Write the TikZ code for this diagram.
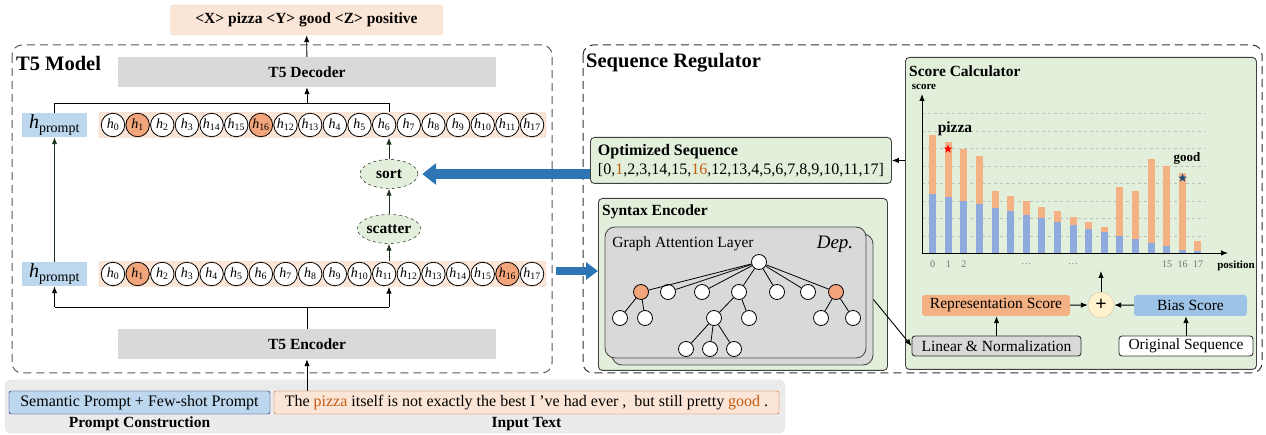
\documentclass[tikz,border=0pt]{standalone}
\usepackage{fontspec}
\setmainfont{Liberation Serif}
\usetikzlibrary{positioning,arrows.meta,shapes.geometric,calc}

\definecolor{peach}{HTML}{FBE5D6}
\definecolor{peachline}{HTML}{EBCDB8}
\definecolor{hot}{HTML}{F2A47A}
\definecolor{boxgray}{HTML}{D9D9D9}
\definecolor{promptblue}{HTML}{BDD7EE}
\definecolor{softgreen}{HTML}{E2EFDA}
\definecolor{arrowblue}{HTML}{2E75B6}
\definecolor{bandgray}{HTML}{EBEBEB}
\definecolor{tok}{HTML}{C55A11}
\definecolor{barorange}{HTML}{F4B183}
\definecolor{barblue}{HTML}{8FAADC}
\definecolor{biasblue}{HTML}{9DC3E6}
\definecolor{plusyellow}{HTML}{FFF2CC}
\definecolor{darkgreen}{HTML}{1E321E}

\begin{document}
\begin{tikzpicture}[x=1pt,y=-1pt,
    every node/.style={font=\fontsize{15.5}{18}\selectfont, inner sep=0pt},
    boldtext/.style={font=\fontsize{15.5}{18}\selectfont\bfseries},
    titletext/.style={font=\fontsize{20.5}{24}\selectfont\bfseries},
    dashframe/.style={draw=black!80, line width=1pt, dash pattern=on 8pt off 5pt, rounded corners=10pt},
    t5box/.style={boldtext, fill=boxgray, minimum width=378, minimum height=30},
    rowbox/.style={fill=peach, draw=peachline, rounded corners=2pt, minimum width=447, minimum height=25},
    promptbox/.style={fill=promptblue, minimum width=65, minimum height=24, font=\fontsize{20}{20}\selectfont},
    hnode/.style={circle, draw=black, line width=0.8pt, minimum size=23.5, font=\fontsize{14}{14}\selectfont},
    opnode/.style={ellipse, draw=black, dashed, fill=softgreen, minimum width=58, minimum height=29, boldtext},
    arr/.style={-{Latex[length=7pt,width=5.5pt]}, line width=0.9pt},
    greenarr/.style={arr, draw=darkgreen},
    bluearr/.style={-{Triangle[length=14pt,width=21pt]}, line width=10pt, draw=arrowblue},
    greenbox/.style={fill=softgreen, draw=black!75, line width=0.9pt, rounded corners=4pt},
    gatlayer/.style={fill=boxgray, draw=black!70, line width=0.9pt, rounded corners=10pt, minimum width=261, minimum height=131},
    tnode/.style={circle, draw=black, fill=white, line width=0.8pt, minimum size=15},
    gridline/.style={draw=black!25, dashed, line width=0.6pt},
    ticklab/.style={font=\fontsize{10}{10}\selectfont, text=black!55},
    smallbox/.style={minimum height=21, rounded corners=3pt}
]
\useasboundingbox (0,0) rectangle (1266,435);

% input band
\node[fill=bandgray, draw=black!12, rounded corners=6pt, minimum width=780, minimum height=53] (band) at (395,406.5) {};
\node[fill=promptblue, draw=black!60!blue, rounded corners=2pt, minimum width=261, minimum height=23, font=\fontsize{16}{18}\selectfont] (sema) at (139.5,402.5) {Semantic Prompt + Few-shot Prompt};
\node[fill=peach, draw=tok, rounded corners=2pt, minimum width=505, minimum height=23, font=\fontsize{16}{18}\selectfont] (input) at (526.5,402.5)
  {The \textcolor{tok}{pizza} itself is not exactly the best I 've had ever ,\ \ but still pretty \textcolor{tok}{good} .};
\node[boldtext] (pclab) at (139.5,424) {Prompt Construction};
\node[boldtext] (itlab) at (526.5,424) {Input Text};

% T5 model
\draw[dashframe, draw=black!65] (12,45) rectangle (552,373);
\node[titletext, anchor=west] (t5title) at (16,63) {T5 Model};
\node[fill=peach, draw=peachline, rounded corners=3pt, minimum width=272, minimum height=30, font=\fontsize{15.5}{18}\selectfont\bfseries] (out) at (306.5,20) {<X> pizza <Y> good <Z> positive};
\node[t5box] (dec) at (307,72) {T5 Decoder};
\node[t5box] (enc) at (307,344) {T5 Encoder};

\node[rowbox] (rowt) at (322.5,125) {};
\node[rowbox] (rowb) at (322.5,274) {};
\node[promptbox] (hpt) at (54.5,125) {\textit{h}\textsubscript{prompt}};
\node[promptbox] (hpb) at (54.5,274) {\textit{h}\textsubscript{prompt}};

\foreach \t/\c [count=\i from 0] in {0/white,1/hot,2/white,3/white,14/white,15/white,16/hot,12/white,13/white,4/white,5/white,6/white,7/white,8/white,9/white,10/white,11/white,17/white}
  \node[hnode, fill=\c] (ht\i) at ({113+24.65*\i},125) {\textit{h}\textsubscript{\t}};
\foreach \t/\c [count=\i from 0] in {0/white,1/hot,2/white,3/white,4/white,5/white,6/white,7/white,8/white,9/white,10/white,11/white,12/white,13/white,14/white,15/white,16/hot,17/white}
  \node[hnode, fill=\c] (hb\i) at ({113+24.65*\i},274) {\textit{h}\textsubscript{\t}};

\node[opnode] (scatter) at (389,229) {scatter};
\node[opnode] (sort) at (389,174) {sort};

\draw[greenarr] (sort |- rowb.north) -- (scatter);
\draw[greenarr] (scatter) -- (sort);
\draw[greenarr] (sort) -- (sort |- rowt.south);
\draw[greenarr] (hpb) -- (hpt);

\coordinate (bust) at (307,103);
\coordinate (busb) at (307,307);
\draw[line width=0.9pt] (hpt.north) |- (sort |- bust) -- (sort |- rowt.north);
\draw[arr] (bust) -- (dec);
\draw[arr] (dec) -- (out);
\draw[line width=0.9pt] (enc) -- (busb);
\draw[line width=0.9pt] (hpb |- busb) -- (sort |- busb);
\draw[arr] (hpb |- busb) -- (hpb);
\draw[arr] (sort |- busb) -- (sort |- rowb.south);
\draw[arr] (enc |- input.north) -- (enc);

% sequence regulator
\draw[dashframe] (583,45) rectangle (1262,373);
\node[titletext, anchor=west] (srtitle) at (586,63) {Sequence Regulator};

\node[greenbox, anchor=north west, minimum width=301, minimum height=46, align=left, font=\fontsize{16}{19}\selectfont] (optseq) at (590,137)
  {\textbf{Optimized Sequence}\\{[}0,\textcolor{tok}{1},2,3,14,15,\textcolor{tok}{16},12,13,4,5,6,7,8,9,10,11,17{]}};
\draw[bluearr, shorten >=4pt] (optseq.west |- sort) -- (sort.east);

% syntax encoder
\node[greenbox, anchor=north west, minimum width=289, minimum height=172] (synenc) at (598,198) {};
\node[boldtext, anchor=west] (synlab) at (602,212) {Syntax Encoder};
\node[gatlayer] (gat2) at (742.5,299.5) {};
\node[gatlayer] (gat1) at (735.5,292.5) {};
\node (gallab) at (683,244) {Graph Attention Layer};
\node[font=\fontsize{19}{19}\selectfont\itshape] (deplab) at (835,244) {Dep.};

\coordinate (bstart) at (556,271);
\draw[bluearr, line width=8pt, -{Triangle[length=12pt,width=17pt]}] (bstart) -- (bstart -| synenc.west);

\node[tnode] (r) at (759,262) {};
\node[tnode, fill=hot] (a1) at (641,292) {};
\node[tnode] (a2) at (668,292) {};
\node[tnode] (a3) at (702,292) {};
\node[tnode] (a4) at (739,292) {};
\node[tnode] (a5) at (777,292) {};
\node[tnode] (a6) at (808,292) {};
\node[tnode, fill=hot] (a7) at (836,292) {};
\node[tnode] (b1) at (620,318) {};
\node[tnode] (b2) at (645,318) {};
\node[tnode] (b3) at (714,318) {};
\node[tnode] (b4) at (749,318) {};
\node[tnode] (b5) at (821,318) {};
\node[tnode] (b6) at (853,318) {};
\node[tnode] (c1) at (686,349) {};
\node[tnode] (c2) at (710,349) {};
\node[tnode] (c3) at (734,349) {};
\foreach \a in {a1,a2,a3,a4,a5,a6,a7}
  \draw[line width=0.8pt] (r) -- (\a);
\foreach \p/\q in {a1/b1,a1/b2,a4/b3,a4/b4,a7/b5,a7/b6,b3/c1,b3/c2,b3/c3}
  \draw[line width=0.8pt] (\p) -- (\q);

% score calculator
\node[greenbox, anchor=north west, minimum width=351, minimum height=312] (score) at (905,57) {};
\node[boldtext, anchor=west] (sclab) at (909,71) {Score Calculator};
\node[font=\fontsize{11}{11}\selectfont\bfseries] (scorelab) at (924,87) {score};
\node[font=\fontsize{11}{11}\selectfont\bfseries] (poslab) at (1236,266) {position};

\foreach \k in {0,...,7}
  \draw[gridline] (922,{236-17.5*\k}) -- (1205,{236-17.5*\k});
\foreach \tot/\blu [count=\i from 0] in {118/59,111/56,104/52,97/49,62/45,57/42,52/38,46/35,42/31,36/28,31/24,26/21,66/17,62/14,94/10,87/7,80/3,12/2}
{
  \fill[barorange] ({929.2+15.6*\i},253) rectangle ++(7,-\tot);
  \fill[barblue] ({929.2+15.6*\i},253) rectangle ++(7,-\blu);
}
\coordinate (org) at (922,253);
\draw[arr] (org) -- (922,94);
\draw[arr] (org) -- (1228,253);

\node[boldtext] (pizzalab) at (955,129) {pizza};
\node[font=\fontsize{13}{13}\selectfont\bfseries] (goodlab) at (1187,158) {good};
\node[star, star points=5, star point ratio=2.4, fill=red, minimum size=9] (redstar) at (948,149) {};
\node[star, star points=5, star point ratio=2.4, fill=arrowblue!70!black, minimum size=9] (bluestar) at (1182.6,178) {};

\foreach \n/\x in {0/932.7,1/948.3,2/963.9,\dots/1026,\dots/1073,15/1167,16/1182.6,17/1198}
  \node[ticklab] at (\x,264) {\n};

\node[smallbox, fill=barorange, minimum width=148] (rep) at (996,305.5) {Representation Score};
\node[circle, fill=plusyellow, draw=plusyellow!80!black, minimum size=26, font=\fontsize{20}{20}\selectfont\bfseries] (plus) at (1101,305) {+};
\node[smallbox, fill=biasblue, minimum width=113] (bias) at (1190.5,305.5) {Bias Score};
\node[smallbox, fill=boxgray, draw=black!80, line width=0.9pt, minimum width=169, minimum height=20] (lin) at (996.5,346) {Linear \& Normalization};
\node[smallbox, fill=white, draw=black!80, line width=0.9pt, minimum width=134, minimum height=20] (orig) at (1186,346) {Original Sequence};

\coordinate (chartbot) at (1101,271);
\draw[arr] (lin) -- (lin |- rep.south);
\draw[arr] (orig.north) -- (orig.north |- bias.south);
\draw[arr] (rep) -- (plus);
\draw[arr] (bias) -- (plus);
\draw[arr] (plus) -- (chartbot);
\draw[arr] (score.west |- optseq.east) -- (optseq.east);
\draw[arr] (gat2.east) -- (lin.west);
\end{tikzpicture}
\end{document}
